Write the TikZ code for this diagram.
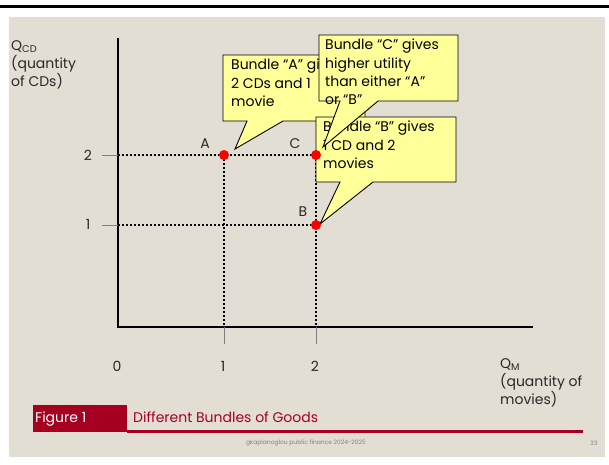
\documentclass[tikz,border=0pt]{standalone}
\usepackage{fontspec}
\setmainfont{Poppins}
\definecolor{slidebg}{RGB}{227,222,211}
\definecolor{noteyellow}{RGB}{255,255,153}
\definecolor{figred}{RGB}{166,0,33}
\definecolor{inkgray}{RGB}{40,40,40}
\tikzset{
  bundle/.style={circle, fill=red, inner sep=0pt, minimum size=10pt},
  guide/.style={line width=2pt, dash pattern=on 2pt off 2pt},
  note/.style={fill=noteyellow, draw=black, line width=0.9pt, line join=miter},
  notetext/.style={anchor=north west, align=left, inner sep=0pt,
    font=\fontsize{14}{18.3}\selectfont},
  ticklab/.style={text=inkgray, font=\fontsize{14}{16}\selectfont},
  axislab/.style={anchor=north west, align=left, inner sep=0pt, text=inkgray,
    font=\fontsize{14}{18}\selectfont},
  tickmark/.style={draw=gray, line width=1pt},
}
\begin{document}
\begin{tikzpicture}[x=1pt,y=-1pt]
\useasboundingbox (0,0) rectangle (609,464);
\fill[white] (0,0) rectangle (609,464);
\fill[slidebg] (9,17) rectangle (605,457);
\fill[black] (0,4.5) rectangle (609,8);

% axes
\coordinate (ytop) at (118,38);
\coordinate (O) at (118,327);
\coordinate (xend) at (533,327);
\draw[line width=2.5pt] (ytop) |- (xend);

% bundles
\coordinate (A) at (224,155);
\coordinate (C) at (316,155);
\coordinate (B) at (316,225);

% ticks
\draw[tickmark] (102,155) -- (O |- A);
\draw[tickmark] (102,225) -- (O |- B);
\draw[tickmark] (A |- O) -- (224,344);
\draw[tickmark] (C |- O) -- (316,344);
\node[ticklab] (y2) at (88,155) {2};
\node[ticklab] (y1) at (88,224) {1};
\node[ticklab] (x0) at (117,366) {0};
\node[ticklab] (x1) at (223,366) {1};
\node[ticklab] (x2) at (315,366) {2};

% dotted guides
\draw[guide] (O |- A) -- (A);
\draw[guide] (O |- C) -- (C);
\draw[guide] (O |- B) -- (B);
\draw[guide] (A) -- (A |- O);
\draw[guide] (C) -- (C |- O);

% axis labels
\node[axislab] (qcd) at (11,40) {Q\textsubscript{CD}\\(quantity\\of CDs)};
\node[axislab] (qm) at (500,358) {Q\textsubscript{M}\\(quantity of\\movies)};

% callouts
\draw[note] (223,55) -- (365,55) -- (365,121) -- (283,121) -- (235,149)
  -- (247,121) -- (223,121) -- cycle;
\node[notetext] (noteA) at (231,59) {Bundle “A” gives\\2 CDs and 1\\movie};
\draw[note] (316,117) -- (456,117) -- (456,182) -- (373,182) -- (320,224)
  -- (340,182) -- (316,182) -- cycle;
\node[notetext] (noteB) at (323,121) {Bundle “B” gives\\1 CD and 2\\movies};
\draw[note] (319,35) -- (458,35) -- (458,101) -- (378,101) -- (323,147)
  -- (340,101) -- (319,101) -- cycle;
\node[notetext] (noteC) at (325,39) {Bundle “C” gives\\higher utility\\than either “A”\\or “B”};

% points
\node[bundle] (dotA) at (A) {};
\node[bundle] (dotC) at (C) {};
\node[bundle] (dotB) at (B) {};
\node[ticklab] (labA) at (205,144) {A};
\node[ticklab] (labC) at (295,144) {C};
\node[ticklab] (labB) at (303,212) {B};

% footer
\fill[figred] (33,405) rectangle (127,432);
\draw[figred, line width=3pt] (127,431) -- (583,431);
\node[anchor=west, text=white, inner sep=0pt, font=\fontsize{14}{16}\selectfont] (fig) at (35,419) {Figure 1};
\node[anchor=west, text=figred, inner sep=0pt, font=\fontsize{14}{16}\selectfont] (title) at (133,417) {Different Bundles of Goods};
\node[text=gray, font=\fontsize{6}{7}\selectfont] (foot) at (306,443) {gkaplanoglou public finance 2024-2025};
\node[text=gray, font=\fontsize{6}{7}\selectfont] (page) at (594,443) {33};
\end{tikzpicture}
\end{document}
